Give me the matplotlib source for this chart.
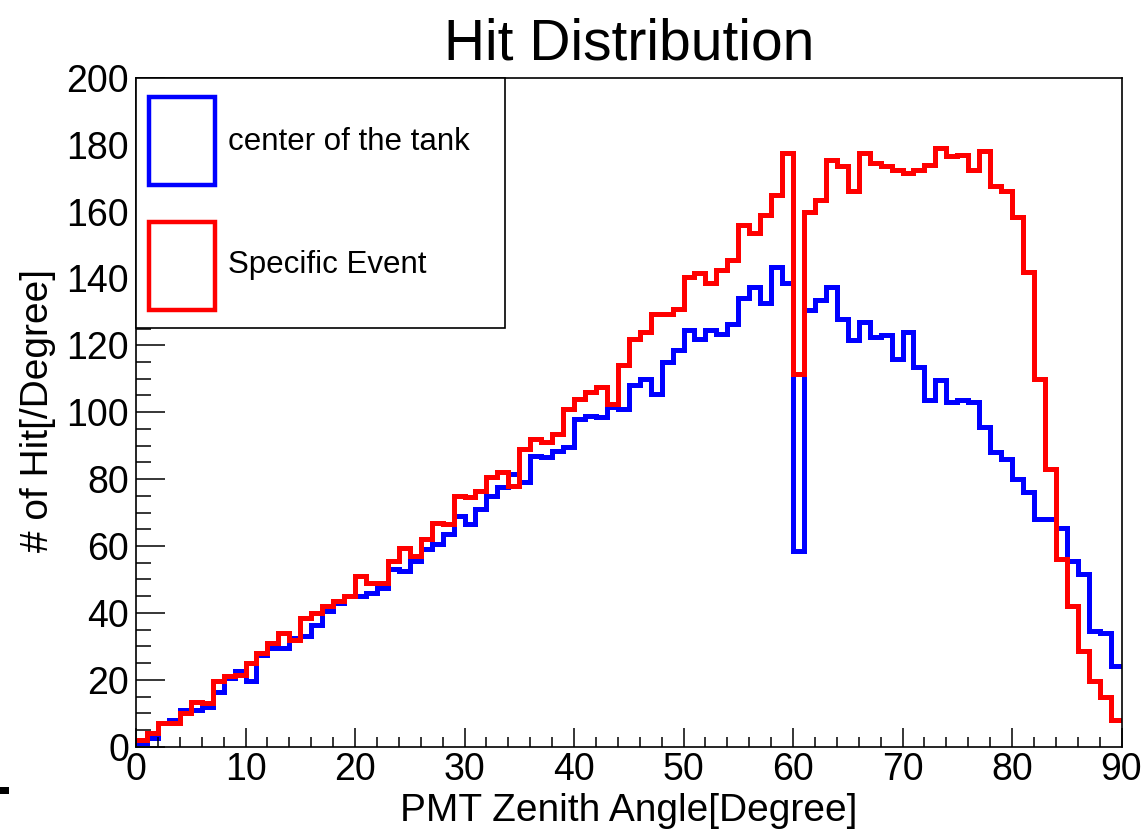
import numpy as np
import matplotlib
matplotlib.use("Agg")
import matplotlib.pyplot as plt
from matplotlib.patches import Rectangle

plt.rcParams['font.family'] = ['Liberation Sans', 'DejaVu Sans']

# bin edges: 1 degree bins from 0 to 90
edges = np.arange(0, 91)

# hits per degree
center_tank = [
    1, 2.5, 7, 8, 11, 11, 12, 16.5, 20.5, 22.5,
    19.5, 27.5, 29.5, 29.5, 32.5, 33, 36.5, 40.5, 43, 45,
    45, 46, 47.5, 53, 52.5, 55.5, 59, 60.5, 63.5, 69,
    66.5, 71, 75, 77.5, 81.5, 79, 87, 86.5, 88.5, 89.5,
    98, 99, 98.5, 101.5, 101, 108, 110, 105.5, 115, 118.5,
    124.5, 122, 124.5, 123.5, 126.5, 134, 137.5, 132.5, 143.5, 138.5,
    58.5, 130.5, 133.5, 137.5, 128, 121.5, 127, 122.5, 123, 116,
    124, 113.5, 103.5, 109.5, 103, 103.5, 103, 95.5, 88, 86,
    80, 76, 68, 68, 65.5, 55.5, 51.5, 34.5, 34, 24,
]
specific_event = [
    2, 4, 7, 7, 10, 13.5, 13, 19.5, 21, 21.5,
    25, 28, 31, 34, 32, 38.5, 40, 42, 43.5, 45,
    51, 49, 49, 55.5, 59.5, 57, 62, 67, 66.5, 75,
    74.5, 76.5, 80.5, 82, 78, 89, 92, 91, 93.5, 101,
    104, 106, 107.5, 102.5, 114, 122, 124, 129.5, 129.5, 131,
    140.5, 141.5, 138.5, 142.5, 145.5, 156, 153.5, 159, 165, 177.5,
    111.5, 160, 163.5, 175.5, 173.5, 166, 177.5, 174.5, 173.5, 172.5,
    171.5, 172.5, 174, 179, 176.5, 177, 172.5, 178, 167.5, 166,
    158.5, 142, 110, 83, 56, 42, 28.5, 19.5, 15, 8,
]
labels = ['center of the tank', 'Specific Event']
colors = ['#0000ff', '#ff0000']

W, H = 1148, 832
fig = plt.figure(figsize=(W / 100, H / 100), dpi=100)
x0, x1, y0, y1 = 136, 1121.5, 746.7, 77.7
ax = fig.add_axes([x0 / W, 1 - y0 / H, (x1 - x0) / W, (y0 - y1) / H])

ax.stairs(center_tank, edges, color=colors[0], lw=3.6, baseline=None)
ax.stairs(specific_event, edges, color=colors[1], lw=3.6, baseline=None)

ax.set_xlim(0, 90)
ax.set_ylim(0, 200)
ax.set_xticks(np.arange(0, 91, 10))
ax.set_xticks(np.arange(0, 91, 2), minor=True)
ax.set_yticks(np.arange(0, 201, 20))
ax.set_yticks(np.arange(0, 201, 5), minor=True)
ax.tick_params(axis='both', which='both', direction='in', width=1.1,
               top=False, right=False, labelsize=27, colors='black')
ax.tick_params(axis='y', which='major', length=21, pad=5)
ax.tick_params(axis='y', which='minor', length=11)
ax.tick_params(axis='x', which='major', length=14, pad=4)
ax.tick_params(axis='x', which='minor', length=7)
for s in ax.spines.values():
    s.set_linewidth(1.2)

# ROOT-style legend box
def fx(px):
    return (px - x0) / (x1 - x0)

def fy(py):
    return (y0 - py) / (y0 - y1)

ax.add_patch(Rectangle((0, fy(328)), fx(505), 1 - fy(328), transform=ax.transAxes,
                       facecolor='white', edgecolor='black', lw=1.2, zorder=5,
                       clip_on=False))
for lab, col, top, bot, ty in zip(labels, colors, [97, 222], [185, 310], [142, 265]):
    ax.add_patch(Rectangle((fx(149), fy(bot)), fx(215) - fx(149), fy(top) - fy(bot),
                           transform=ax.transAxes, facecolor='none', edgecolor=col,
                           lw=3.2, zorder=6))
    ax.text(fx(228), fy(ty), lab, transform=ax.transAxes, fontsize=22.5,
            va='center', ha='left', zorder=7)

fig.text((x0 + x1) / 2 / W, 1 - 60 / H, 'Hit Distribution', fontsize=41,
         ha='center', va='baseline')
fig.text(629 / W, 1 - 821 / H, 'PMT Zenith Angle[Degree]', fontsize=28,
         ha='center', va='baseline')
fig.text(38 / W, 1 - 410 / H, '# of Hit[/Degree]', fontsize=28,
         ha='center', va='center', rotation=90)

fig.patches.append(Rectangle((0, 1 - 794 / H), 9 / W, 7 / H, transform=fig.transFigure,
                             facecolor='black', edgecolor='none'))

fig.savefig('out.png', dpi=100)
